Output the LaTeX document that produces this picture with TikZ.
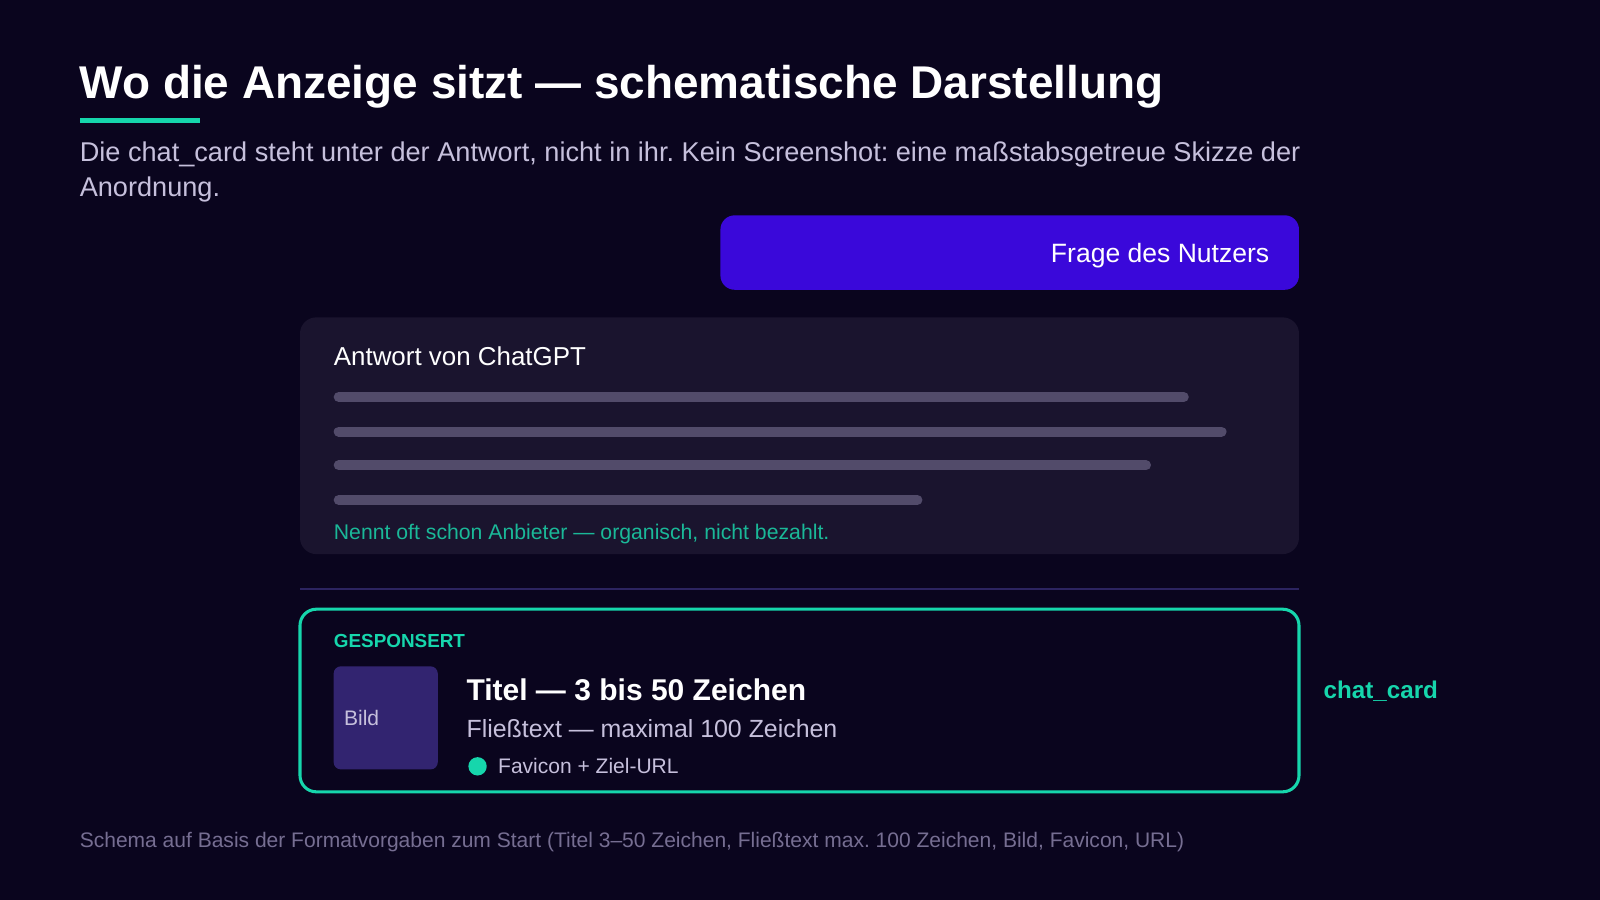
\documentclass[tikz,border=0pt]{standalone}
\usepackage{fontspec}
\setmainfont{Liberation Sans}
\frenchspacing

\definecolor{bg}{RGB}{10,5,30}
\definecolor{mint}{RGB}{22,214,172}
\definecolor{mintdim}{RGB}{26,184,152}
\definecolor{violet}{RGB}{58,8,218}
\definecolor{panel}{RGB}{26,20,46}
\definecolor{barcol}{RGB}{82,75,106}
\definecolor{soft}{RGB}{198,192,220}
\definecolor{dim}{RGB}{118,110,146}
\definecolor{rule}{RGB}{44,36,96}
\definecolor{thumb}{RGB}{50,36,112}

\begin{document}
\begin{tikzpicture}[
  x=1pt, y=-1pt,
  txt/.style={anchor=base west, inner sep=0pt, font=\fontsize{#1}{#1}\selectfont},
  btxt/.style={anchor=base west, inner sep=0pt, font=\fontsize{#1}{#1}\selectfont\bfseries},
  bar/.style={draw=barcol, line width=10pt, line cap=round},
]
  \fill[bg] (0,0) rectangle (1568,882);
  \useasboundingbox (0,0) rectangle (1568,882);

  % heading
  \node[btxt=45, white] (title) at (78,97)
    {Wo die Anzeige sitzt — schematische Darstellung};
  \fill[mint] (78,116) rectangle (196,121);
  \node[txt=26.6, soft] (lead1) at (78,158)
    {Die chat\_card steht unter der Antwort, nicht in ihr. Kein Screenshot: eine maßstabsgetreue Skizze der};
  \node[txt=26.6, soft] (lead2) at (78,193) {Anordnung.};

  % user bubble
  \fill[violet, rounded corners=14] (706,211) rectangle (1273,284);
  \node[txt=26, white, anchor=base east] (frage) at (1244,257) {Frage des Nutzers};

  % answer
  \fill[panel, rounded corners=16] (294,311) rectangle (1273,543);
  \node[txt=25.4, white] (antwort) at (327,358) {Antwort von ChatGPT};
  \draw[bar] (332,389) -- (1160,389);
  \draw[bar] (332,423) -- (1197,423);
  \draw[bar] (332,456) -- (1123,456);
  \draw[bar] (332,490) -- (899,490);
  \node[txt=20.8, mintdim] (organisch) at (327,529)
    {Nennt oft schon Anbieter — organisch, nicht bezahlt.};

  \draw[rule, line width=2pt] (294,577) -- (1273,577);

  % sponsored card
  \draw[mint, line width=3pt, rounded corners=16] (294,597) rectangle (1273,776);
  \node[btxt=18.5, mint] (gesponsert) at (327,635) {GESPONSERT};
  \fill[thumb, rounded corners=7] (327,653) rectangle (429,754);
  \node[txt=20.6, soft] (bild) at (337,711) {Bild};
  \node[btxt=29.4, white] (titel) at (457,686) {Titel — 3 bis 50 Zeichen};
  \node[txt=24.4, soft] (fliess) at (457,723) {Fließtext — maximal 100 Zeichen};
  \fill[mint] (468,751) circle (9);
  \node[txt=20.6, soft] (favicon) at (488,758) {Favicon + Ziel-URL};
  \node[btxt=23.7, mint] (card) at (1297,685) {chat\_card};

  % source
  \node[txt=20.6, dim] (quelle) at (78,831)
    {Schema auf Basis der Formatvorgaben zum Start (Titel 3–50 Zeichen, Fließtext max. 100 Zeichen, Bild, Favicon, URL)};
\end{tikzpicture}
\end{document}
